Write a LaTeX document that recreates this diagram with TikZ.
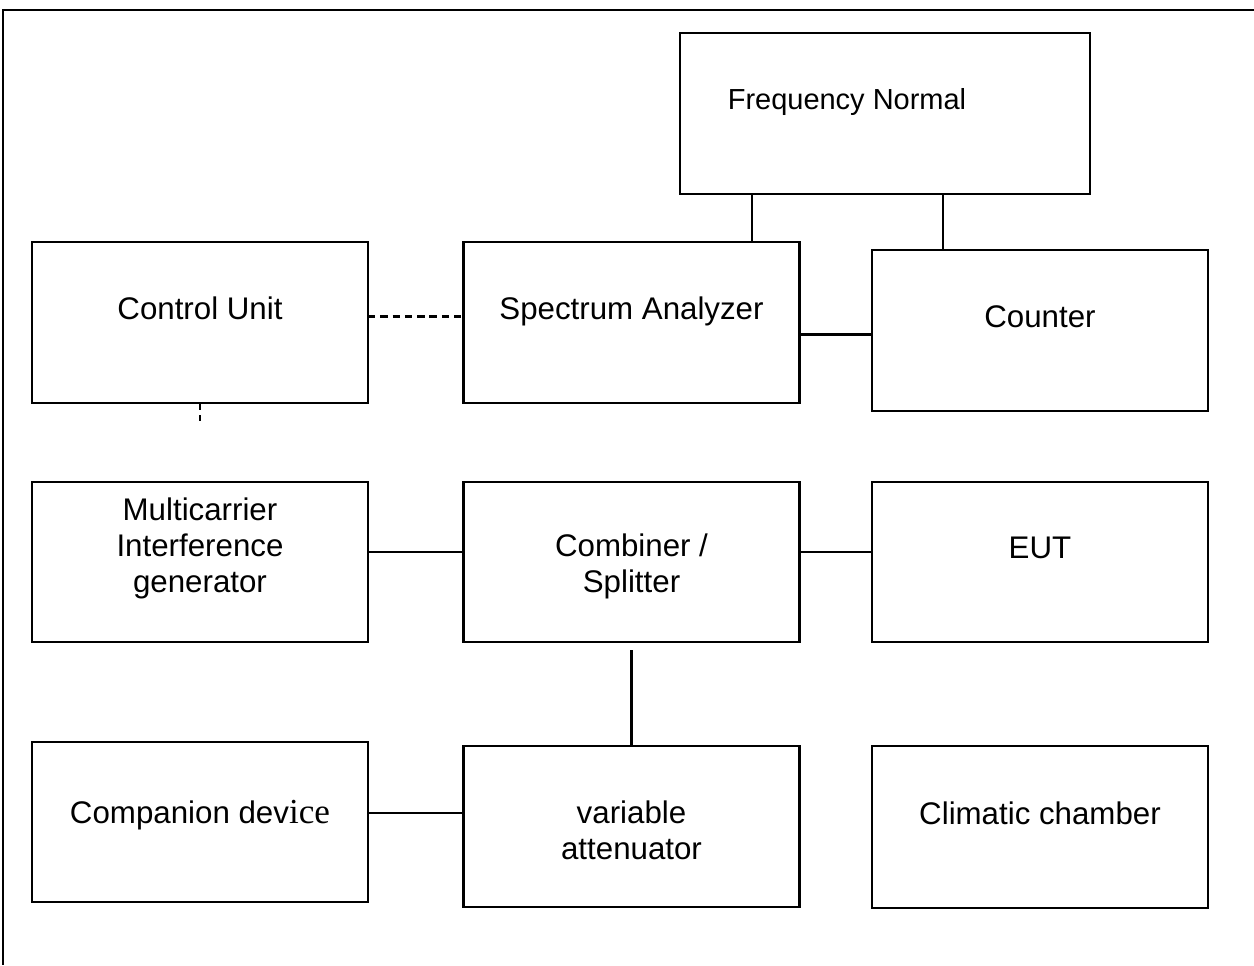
\documentclass[tikz,border=0pt]{standalone}
\usepackage{fontspec}
\setmainfont{Liberation Sans}
\newfontfamily\timesfont{Liberation Serif}
\usetikzlibrary{calc}

\tikzset{
  unit/.style={draw, line width=1.3pt, minimum width=6.72cm, minimum height=3.22cm, inner sep=0pt, outer sep=0pt},
  lbl/.style={align=center, font=\fontsize{17.8}{20.5}\selectfont, inner sep=0pt},
  wire/.style={line width=1.3pt},
  ctrl/.style={line width=1.3pt, dash pattern=on 4.2pt off 2.8pt}
}

\begin{document}
\begin{tikzpicture}[x=0.02cm, y=-0.02cm]
            \useasboundingbox (0,0) rectangle (1254,965);
            \draw[wire] (1254,10) -- (3,10) -- (3,965);

            \node[unit, minimum width=8.2cm] (fn) at (885,113.5) {};
            \node[unit] (cu) at (200,322.5) {};
            \node[unit] (sa) at (631.5,322.5) {};
            \node[unit] (ct) at (1040,330.5) {};
            \node[unit, minimum height=3.2cm] (mc) at (200,562) {};
            \node[unit, minimum height=3.2cm] (cs) at (631.5,562) {};
            \node[unit, minimum height=3.2cm] (eut) at (1040,562) {};
            \node[unit, minimum height=3.2cm] (cd) at (200,822) {};
            \node[unit] (va) at (631.5,826.5) {};
            \node[unit, minimum height=3.24cm] (cc) at (1040,827) {};

            \node[lbl, font=\fontsize{16.5}{20}\selectfont] (fnt) at ($(fn.center)+(-38,-12)$) {Frequency Normal};
            \node[lbl] (cut) at ($(cu.center)+(0,-14)$) {Control Unit};
            \node[lbl] (sat) at ($(sa.center)+(0,-11)$) {Spectrum Analyzer};
            \node[lbl] (ctt) at ($(ct.center)+(0,-14)$) {Counter};
            \node[lbl] (mct) at ($(mc.center)+(0,-14)$) {Multicarrier\\Interference\\generator};
            \node[lbl] (cst) at ($(cs.center)+(0,4)$) {Combiner /\\Splitter};
            \node[lbl] (eutt) at ($(eut.center)+(0,-14)$) {EUT};
            \node[lbl] (cdt) at ($(cd.center)+(0,-7)$) {Companion dev{\timesfont\fontsize{20}{20}\selectfont ice}};
            \node[lbl] (vat) at ($(va.center)+(0,4)$) {variable\\attenuator};
            \node[lbl] (cct) at ($(cc.center)+(0,-14)$) {Climatic chamber};

            \coordinate (fnl) at ($(fn.south)+(-133,0)$);
            \coordinate (fnr) at ($(fn.south)+(58,0)$);
            \draw[wire] (fnl) -- (fnl |- sa.north);
            \draw[wire] (fnr) -- (fnr |- ct.north);
            \coordinate (sar) at ($(sa.east)+(0,12)$);
            \draw[wire] (sar) -- (sar -| ct.west);
            \coordinate (cur) at ($(cu.east)+(0,-6)$);
            \draw[ctrl] (cur) -- (cur -| sa.west);
            \coordinate (cub) at ($(cu.south)+(0,18)$);
            \draw[ctrl] (cu.south) -- (cub);
            \coordinate (mcr) at ($(mc.east)+(0,-10)$);
            \draw[wire] (mcr) -- (mcr -| cs.west);
            \coordinate (csr) at ($(cs.east)+(0,-10)$);
            \draw[wire] (csr) -- (csr -| eut.west);
            \coordinate (csb) at ($(cs.south)+(0,8)$);
            \draw[wire] (csb) -- (va.north);
            \coordinate (cdr) at ($(cd.east)+(0,-9)$);
            \draw[wire] (cdr) -- (cdr -| va.west);
        \end{tikzpicture}
\end{document}
